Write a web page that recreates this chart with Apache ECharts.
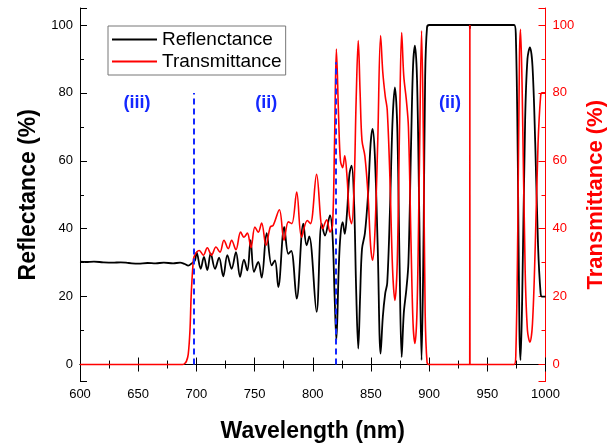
<!DOCTYPE html>
<html><head><meta charset="utf-8">
<script src="https://cdn.jsdelivr.net/npm/echarts@6/dist/echarts.min.js"></script>
<style>html,body{margin:0;padding:0;background:#fff}#c{width:608px;height:446px}</style>
</head><body><div id="c"></div>
<script>
// Reflectance (black, left axis)
const reflWl = [600,605,612,620,628,635,642,650,658,665,672,680,686,690,693,696,698.8,700.2,
703.7,706.5,709.4,712.3,716,719.5,723.1,726.6,730.3,734,737.5,740.9,743.8,746.6,749.5,753.2,756.1,760.4,764.7,767.5,770.4,775.5,779,781.5,786.2,791.9,794.7,797,803.3,807.6,810.5,814.8,817,818.8,
820.3,822.3,823.8,825.7,827.5,829.5,831.5,833.4,835.5,837.3,839.1,840.7,842.3,844.8,847.5,849.7,851.4,853.3,855.8,858.3,860.2,862.3,864,866.3,868.6,870.6,872.6,874.6,876.4,878.2,880.4,882.2,884.5,886.2,887.8,889.6,891.5,893.5,895.3,896.6,898.2,900,934.8,935,935.2,
973,974.5,976.2,977.6,978.5,980,982.5,984.5,986.6,988.8,991.2,993.6,995.8,997,1000];
const reflVal = [30.3,30.2,30.3,30.1,30.0,30.1,29.9,29.7,29.9,29.8,30.0,29.8,30.0,29.6,29.1,29.8,30.7,33.0,
28.2,31.7,27.8,32.7,28.2,31.5,26.0,32.2,28.2,33.1,25.8,30.9,27.7,36.6,27.3,30.2,25.6,38.7,29.2,30.7,22.8,40.5,32.6,33.5,19.4,41.5,35.1,37.7,15.5,41.5,38,43.9,38,20,
7.1,28,38,41.9,38.5,45,56,58.6,48,22,4.7,20,34,38.6,50,65,69.4,62,35,3.2,14,21,24,45,72,81.6,70,30,2.2,15,22,30,65,88,93.9,84,45,1.3,40,85,99.3,100,100,99,100,
100,97,60,10,1.3,20,72,90,93.4,88,65,35,21,20,20];

// Transmittance (red, right axis)
const transWl = [600,650,688,690,691.5,693,694.5,695.5,697,698,
702.5,706,709.4,713,716.8,720.3,723.7,727.4,730.3,734,738,740.9,743.8,746.9,750.3,753.2,756.1,759.8,763.5,766,771.3,775.3,779,782,786.2,790.4,795.3,798,803.3,808.5,812,814.8,817,818.7,
820.3,822.3,823.8,825.7,827.5,829.5,831.5,833.4,835.5,837.3,839.1,840.7,842.3,844.8,847.5,849.7,851.4,853.3,855.8,858.3,860.2,862.3,864,866.3,868.6,870.6,872.6,874.6,876.4,878.2,880.4,882.2,884.5,886.2,887.8,889.6,891.5,893.5,895.3,896.6,898.2,900,934.9,935,935.1,
973,974.5,976.2,977.6,978.5,980,982.5,984.5,986.6,988.8,991.2,993.6,995.8,997,1000];
const transVal = [0,0,0,0.3,1,3,10,20,29,31.7,
33.6,32.2,34.4,32.2,34.6,33.1,36.6,34.1,36.6,33.8,39,37.5,38.7,34.4,40.5,39,41.7,35.1,40.5,41,45.6,36.6,42,41.5,50.8,37.5,42.4,41.5,56,40,42.6,39,41,65,
92.9,72,60,58,61.5,55,44,41.5,52,78,95.4,80,66,61.4,50,35,30.7,38,65,96.9,86,79,75,55,28,18.9,30,70,97.8,85,78,70,35,12,6.2,16,55,98.3,60,15,0.7,0,0,100,0,
0,3,40,90,98.7,80,28,10,6.6,12,35,65,79,80,80];

// Region boundaries (dashed blue lines) and region labels
const boundaryWl = [698, 820];
const boundaryTop = [80, 89];
const regionNames = ['(iii)', '(ii)', '(ii)'];
const regionWl = [649, 760, 918];
const regionVal = [77, 77, 77];

const xMin = 600, xMax = 1000, xStep = 50;
const yMin = -5, yMax = 105;

const zip = (a, b) => a.map((v, i) => [v, b[i]]);
const fmt = v => (v < 0 || v > 100) ? '' : String(v);

const chart = echarts.init(document.getElementById('c'), null, {renderer: 'canvas'});
const FONT = 'Liberation Sans, Arial, sans-serif';
const RED = '#ff0000';
const BLUE = '#1428ff';
chart.setOption({
  animation: false,
  textStyle: {fontFamily: FONT},
  grid: {left: 80, right: 62.5, top: 8, bottom: 64.5, containLabel: false, outerBoundsMode: 'none'},
  legend: {
    data: ['Reflenctance', 'Transmittance'],
    orient: 'vertical', left: 108, top: 26,
    itemWidth: 45, itemHeight: 12, itemGap: 3,
    padding: [4, 4, 4, 3],
    borderColor: '#777', borderWidth: 1,
    itemStyle: {opacity: 0},
    textStyle: {fontSize: 19, color: '#000', fontFamily: FONT}
  },
  xAxis: [
    {type: 'value', min: xMin, max: xMax, interval: xStep, position: 'bottom',
     axisLine: {lineStyle: {color: '#000', width: 1}},
     axisTick: {inside: true, length: 7, lineStyle: {color: '#000'}},
     minorTick: {show: true, splitNumber: 2, length: 4, lineStyle: {color: '#000'}},
     axisLabel: {fontSize: 13, color: '#000', margin: 6, fontFamily: FONT, formatter: v => String(v)},
     splitLine: {show: false},
     name: 'Wavelength (nm)', nameLocation: 'middle', nameGap: 39,
     nameTextStyle: {fontSize: 23, fontWeight: 'bold', color: '#000', fontFamily: FONT}},
    {type: 'value', min: xMin, max: xMax, interval: xStep, position: 'top',
     axisLine: {lineStyle: {color: '#000', width: 1}},
     axisTick: {inside: true, length: 7, lineStyle: {color: '#000'}},
     minorTick: {show: true, splitNumber: 2, length: 4, lineStyle: {color: '#000'}},
     axisLabel: {show: false}, splitLine: {show: false}}
  ],
  yAxis: [
    {type: 'value', min: yMin, max: yMax, splitNumber: 5, position: 'left',
     axisLine: {show: true, lineStyle: {color: '#000'}},
     axisTick: {show: true, inside: true, length: 7, lineStyle: {color: '#000'}},
     axisLabel: {fontSize: 13, color: '#000', margin: 7, formatter: fmt, fontFamily: FONT},
     splitLine: {show: false},
     name: 'Reflectance (%)', nameLocation: 'middle', nameGap: 38, nameRotate: 90,
     nameTextStyle: {fontSize: 23, fontWeight: 'bold', color: '#000', fontFamily: FONT}},
    {type: 'value', min: yMin, max: yMax, splitNumber: 5, position: 'right',
     axisLine: {show: true, lineStyle: {color: RED}},
     axisTick: {show: true, inside: true, length: 7, lineStyle: {color: RED}},
     axisLabel: {fontSize: 13, color: RED, margin: 7, formatter: fmt, fontFamily: FONT},
     splitLine: {show: false},
     name: 'Transmittance (%)', nameLocation: 'middle', nameGap: 32, nameRotate: 90,
     nameTextStyle: {fontSize: 22, fontWeight: 'bold', color: RED, fontFamily: FONT}},
    {type: 'value', min: yMin, max: yMax, splitNumber: 11, position: 'left',
     axisLine: {show: false}, axisLabel: {show: false}, splitLine: {show: false},
     axisTick: {show: true, inside: true, length: 4, lineStyle: {color: '#000'}}},
    {type: 'value', min: yMin, max: yMax, splitNumber: 11, position: 'right',
     axisLine: {show: false}, axisLabel: {show: false}, splitLine: {show: false},
     axisTick: {show: true, inside: true, length: 4, lineStyle: {color: RED}}}
  ],
  series: [
    {name: 'Reflenctance', type: 'line', xAxisIndex: 0, yAxisIndex: 0,
     data: zip(reflWl, reflVal), symbol: 'none', smooth: 0.35, z: 3,
     lineStyle: {color: '#000', width: 1.8}, itemStyle: {color: '#000'},
     markLine: {silent: true, symbol: ['none', 'none'], label: {show: false},
       lineStyle: {color: BLUE, type: [6, 4], width: 2},
       data: boundaryWl.map((w, i) => [{coord: [w, 0]}, {coord: [w, boundaryTop[i]]}])}},
    {name: 'Transmittance', type: 'line', xAxisIndex: 0, yAxisIndex: 1,
     data: zip(transWl, transVal), symbol: 'none', smooth: 0.35, z: 4,
     lineStyle: {color: RED, width: 1.6}, itemStyle: {color: RED}},
    {name: 'labels', type: 'scatter', xAxisIndex: 0, yAxisIndex: 0, symbolSize: 1,
     itemStyle: {color: 'rgba(0,0,0,0)', opacity: 1}, silent: true,
     data: regionNames.map((n, i) => ({name: n, value: [regionWl[i], regionVal[i]]})),
     label: {show: true, position: 'inside', formatter: p => p.name,
       fontSize: 18, fontWeight: 'bold', color: BLUE, fontFamily: FONT}}
  ]
});
</script></body></html>
